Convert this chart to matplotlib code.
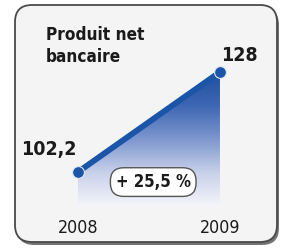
import numpy as np
import matplotlib
matplotlib.use("Agg")
import matplotlib.pyplot as plt
from matplotlib import font_manager
from matplotlib.patches import FancyBboxPatch, Polygon
from matplotlib.colors import LinearSegmentedColormap
from matplotlib.transforms import blended_transform_factory

# data
years = [2008, 2009]
values = [102.2, 128]
value_labels = ["102,2", "128"]
title = "Produit net\nbancaire"
growth_label = "+ 25,5 %"

W, H = 286, 249
BLUE = "#1b55a7"


def narrow_font(bold):
    # look for any installed narrow / condensed face
    cands = []
    for f in font_manager.fontManager.ttflist:
        narrow = ("narrow" in f.name.lower() or "condensed" in f.name.lower()
                  or str(f.stretch) in ("condensed", "semi-condensed", "700", "600")
                  or "condensed" in f.fname.lower())
        if not narrow or "italic" in f.style or "oblique" in f.style:
            continue
        w = f.weight if isinstance(f.weight, int) else (700 if "bold" in str(f.weight) else 400)
        cands.append((abs(w - (700 if bold else 400)), f.fname))
    if cands:
        cands.sort()
        return font_manager.FontProperties(fname=cands[0][1])
    return None


fp_bold = narrow_font(True)
fp_reg = narrow_font(False)


def fnt(bold, size):
    fp = fp_bold if bold else fp_reg
    if fp is None:
        fp = font_manager.FontProperties(family="DejaVu Sans",
                                         weight="bold" if bold else "normal")
        size = size * 0.82
    fp = fp.copy()
    fp.set_size(size)
    return fp


fig = plt.figure(figsize=(W / 100, H / 100), dpi=100)
fig.patch.set_facecolor("white")

# pixel axes for the frame
deco = fig.add_axes([0, 0, 1, 1])
deco.set_xlim(0, W)
deco.set_ylim(H, 0)
deco.axis("off")

shadow = FancyBboxPatch((17, 8), 262, 237, boxstyle="round,pad=0,rounding_size=17",
                        fc="#3a3a3a", ec="none", alpha=0.7)
deco.add_patch(shadow)
frame = FancyBboxPatch((15, 5), 262, 237, boxstyle="round,pad=0,rounding_size=17",
                       fc="#f4f4f4", ec="#4a4a4a", lw=1.3)
deco.add_patch(frame)

deco.text(46, 26, title, fontproperties=fnt(True, 12.3),
          va="top", ha="left", color="#1a1a1a", linespacing=1.3)

# data axes
ax = fig.add_axes([0, 0, 1, 1])
ax.patch.set_alpha(0)
ax.axis("off")

base = 93.2
poly = Polygon([(years[0], values[0]), (years[1], values[1]),
                (years[1], base), (years[0], base)], closed=True,
               fc="none", ec="none", transform=ax.transData)
ax.add_patch(poly)
cmap = LinearSegmentedColormap.from_list(
    "fade", ["#f6f6fb", "#c9d2ea", "#7e97cf", "#3f67b3", "#1d4f9f"])
grad = np.linspace(0, 1, 256).reshape(-1, 1)
im = ax.imshow(grad, cmap=cmap, origin="lower", aspect="auto",
               extent=[years[0], years[1], base, values[1]], zorder=1)
im.set_clip_path(poly)
ax.set_xlim(2007.451, 2009.465)
ax.set_ylim(82.33, 146.58)

ax.plot(years, values, color=BLUE, lw=4.2, solid_capstyle="round", zorder=3)
ax.plot(years, values, "o", ms=8.5, color=BLUE, mec="#dfe6f3", mew=0.8, zorder=4)

offsets = [(-21, 16), (14, 12)]
for x, y, lab, off in zip(years, values, value_labels, offsets):
    ax.annotate(lab, (x, y), xytext=off, textcoords="offset points",
                ha="center", va="center", fontproperties=fnt(True, 14),
                color="#1a1a1a")

trans = blended_transform_factory(ax.transData, ax.transAxes)
for x in years:
    ax.text(x, 0.083, str(x), transform=trans, ha="center", va="center",
            fontproperties=fnt(False, 12.8), color="#1a1a1a")

ax.text(np.mean(years) + 0.03, 99.6, growth_label, ha="center", va="center",
        fontproperties=fnt(True, 12), color="#1a1a1a", zorder=5,
        bbox=dict(boxstyle="round,pad=0.32,rounding_size=0.8", fc="white",
                  ec="#555555", lw=1.0))

fig.savefig("out.png", dpi=100)
